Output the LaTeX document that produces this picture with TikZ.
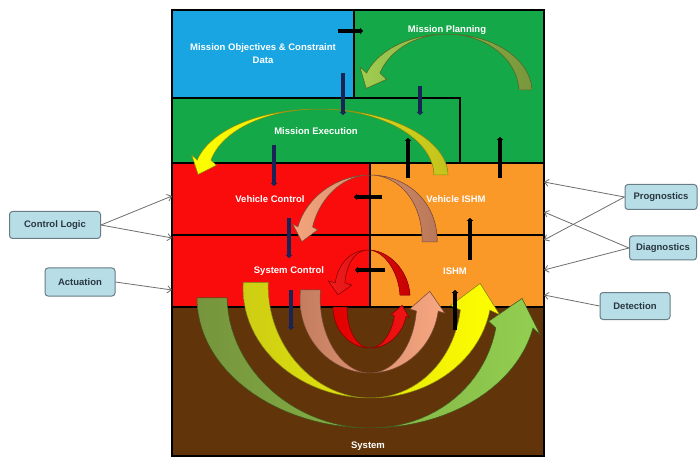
\documentclass[tikz,border=0pt]{standalone}
\usepackage{fontspec}
\setmainfont{Liberation Sans}
\usetikzlibrary{arrows.meta}

\definecolor{objblue}{RGB}{25,165,225}
\definecolor{plangreen}{RGB}{20,168,72}
\definecolor{ctrlred}{RGB}{250,12,12}
\definecolor{ishmorange}{RGB}{250,152,40}
\definecolor{sysbrown}{RGB}{98,52,10}
\definecolor{arrownavy}{RGB}{25,35,85}
\definecolor{tagfill}{RGB}{183,221,230}
\definecolor{tagline}{RGB}{105,125,135}
\definecolor{tagtext}{RGB}{40,55,65}
\definecolor{linkgray}{RGB}{110,110,110}

\tikzset{band/.cd,
  cx/.store in=\bandcx, cy/.store in=\bandcy, ry/.store in=\bandry,
  ta/.store in=\bandta, th/.store in=\bandth,
  rt/.store in=\bandrt, rh/.store in=\bandrh,
  wt/.store in=\bandwt, wh/.store in=\bandwh,
  hw/.store in=\bandhw, hl/.store in=\bandhl}

% curved block arrow between two elliptic edges, tail at angle ta, head at angle th
\newcommand\bandarrow[2]{%
  \pgfkeys{/tikz/band/.cd,hw=0.9,hl=1,#2}%
  \pgfmathsetmacro\bandrm{\bandrh-\bandwh/2}%
  \pgfmathsetmacro\bandmx{\bandcx+\bandrm*cos(\bandth)}%
  \pgfmathsetmacro\bandmy{\bandcy+\bandry*sin(\bandth)}%
  \pgfmathsetmacro\bandax{\bandrm*sin(\bandth)/100}%
  \pgfmathsetmacro\banday{-\bandry*cos(\bandth)/100}%
  \pgfmathsetmacro\bandn{sqrt(\bandax*\bandax+\banday*\banday)}%
  \pgfmathsetmacro\bandtx{\bandax/\bandn}%
  \pgfmathsetmacro\bandty{\banday/\bandn}%
  \pgfmathsetmacro\bandh{\bandhw*\bandwh}%
  \pgfmathsetmacro\bandl{\bandhl*\bandwh}%
  \filldraw[line width=0.5pt,#1] plot[domain=\bandta:\bandth,samples=50]
      ({\bandcx+(\bandrt+(\bandrh-\bandrt)*(\x-\bandta)/(\bandth-\bandta))*cos(\x)},{\bandcy+\bandry*sin(\x)})
    -- ({\bandmx-\bandty*\bandh},{\bandmy+\bandtx*\bandh})
    -- ({\bandmx+\bandtx*\bandl},{\bandmy+\bandty*\bandl})
    -- ({\bandmx+\bandty*\bandh},{\bandmy-\bandtx*\bandh})
    -- plot[domain=\bandth:\bandta,samples=50]
      ({\bandcx+(\bandrt-\bandwt+(\bandrh-\bandwh-\bandrt+\bandwt)*(\x-\bandta)/(\bandth-\bandta))*cos(\x)},{\bandcy+\bandry*sin(\x)})
    -- cycle;}

\begin{document}
\begin{tikzpicture}[x=1pt,y=-1pt,
  zonetext/.style={text=white,font=\fontsize{9.5}{13}\selectfont\bfseries,align=center},
  tag/.style={draw=tagline,line width=1pt,fill=tagfill,rounded corners=3pt,text=tagtext,
    font=\fontsize{9.5}{11}\selectfont\bfseries,inner sep=0pt},
  navyarr/.style={draw=arrownavy,line width=3.5pt,-{Triangle[width=6.5pt,length=3pt]}},
  blackarr/.style={draw=black,line width=3.5pt,-{Triangle[width=6.5pt,length=3pt]}},
  linkarr/.style={draw=linkgray,line width=0.8pt,-{Straight Barb[length=4pt,width=7pt]}}]
\fill[white] (0,0) rectangle (699,457);
\useasboundingbox (0,0) rectangle (699,457);

% zones
\fill[plangreen] (354,10) rectangle (544,163);
\fill[objblue] (172,10) rectangle (354,98);
\fill[plangreen] (172,98) rectangle (460,163);
\fill[ctrlred] (172,163) rectangle (370,307);
\fill[ishmorange] (370,163) rectangle (544,307);
\fill[sysbrown] (172,307) rectangle (544,456);
\draw[line width=1.2pt] (354,10) -- (354,98) (172,98) -- (460,98) -- (460,163)
  (172,163) -- (544,163) (172,235) -- (544,235) (172,307) -- (544,307) (370,163) -- (370,307);
\draw[line width=1.5pt] (172,10) rectangle (544,456);

% loops through the system
\bandarrow{left color={rgb,255:red,118;green,148;blue,60},right color={rgb,255:red,146;green,208;blue,80},draw={rgb,255:red,70;green,90;blue,30}}
  {cx=370,cy=300,ry=128,ta=181,th=12.6,rt=173,rh=167,wt=30,wh=38,hw=0.7,hl=0.8}
\bandarrow{left color={rgb,255:red,205;green,205;blue,20},right color={rgb,255:red,255;green,255;blue,0},draw={rgb,255:red,140;green,140;blue,20}}
  {cx=370,cy=290,ry=108,ta=184,th=10.7,rt=127,rh=122,wt=25,wh=30,hw=0.83,hl=0.9}
\bandarrow{left color={rgb,255:red,195;green,125;blue,95},right color={rgb,255:red,248;green,168;blue,130},draw={rgb,255:red,130;green,80;blue,60}}
  {cx=370,cy=300,ry=73,ta=188,th=8.7,rt=70,rh=69,wt=20,wh=22,hw=0.8,hl=0.9}
\bandarrow{left color={rgb,255:red,225;green,0;blue,0},right color={rgb,255:red,240;green,20;blue,20},draw={rgb,255:red,150;green,0;blue,0}}
  {cx=370,cy=307,ry=41,ta=180,th=12.7,rt=37,rh=37,wt=14,wh=12,hw=0.75,hl=0.9}

% arches between the layers
\bandarrow{left color={rgb,255:red,160;green,205;blue,80},right color={rgb,255:red,120;green,150;blue,60},draw={rgb,255:red,90;green,110;blue,40}}
  {cx=447,cy=92,ry=58,ta=358,th=199,rt=85,rh=85,wt=13,wh=14,hw=1.05,hl=1.2}
\bandarrow{left color={rgb,255:red,255;green,255;blue,0},right color={rgb,255:red,195;green,195;blue,30},draw={rgb,255:red,150;green,150;blue,20}}
  {cx=319,cy=175,ry=66,ta=360,th=193,rt=129,rh=125,wt=14,wh=14,hw=0.95,hl=1.1}
\bandarrow{left color={rgb,255:red,245;green,165;blue,125},right color={rgb,255:red,185;green,120;blue,90},draw={rgb,255:red,130;green,80;blue,60}}
  {cx=370,cy=242,ry=67,ta=360,th=193,rt=67,rh=74,wt=15,wh=15,hw=0.85,hl=1}
\bandarrow{left color={rgb,255:red,240;green,30;blue,30},right color={rgb,255:red,200;green,0;blue,0},draw={rgb,255:red,150;green,0;blue,0}}
  {cx=368,cy=295,ry=45,ta=360,th=195.5,rt=42,rh=34,wt=10,wh=10,hw=1.2,hl=1.2}

% small flow arrows
\foreach \x/\ya/\yb in {343/73/115, 420/86/115, 274/145/186, 289/218/258, 291/290/330}
  \draw[navyarr] (\x,\ya) -- (\x,\yb);
\foreach \x/\ya/\yb in {408/178/138, 500/178/137, 470/260/218, 455/330/290}
  \draw[blackarr] (\x,\ya) -- (\x,\yb);
\draw[blackarr] (338,31) -- (363,31);
\draw[blackarr] (382,197) -- (354,197);
\draw[blackarr] (385,270) -- (355,270);

% zone labels
\node[zonetext] (obj) at (263,54) {Mission Objectives \& Constraint\\Data};
\node[zonetext] (plan) at (447,30) {Mission Planning};
\node[zonetext] (exec) at (316,131) {Mission Execution};
\node[zonetext] (vctl) at (270,199) {Vehicle Control};
\node[zonetext] (vishm) at (456,199) {Vehicle ISHM};
\node[zonetext] (sctl) at (289,271) {System Control};
\node[zonetext] (ishm) at (455,271) {ISHM};
\node[zonetext] (sys) at (368,446) {System};

% functions outside
\node[tag,minimum width=91,minimum height=27] (logic) at (55,225) {Control Logic};
\node[tag,minimum width=70,minimum height=28] (act) at (80,282) {Actuation};
\node[tag,minimum width=72,minimum height=25] (prog) at (661,197) {Prognostics};
\node[tag,minimum width=67,minimum height=24] (diag) at (663,248) {Diagnostics};
\node[tag,minimum width=70,minimum height=27] (det) at (635,306) {Detection};

\coordinate (cl1) at (172,196);
\coordinate (cl2) at (172,238);
\coordinate (ac1) at (172,290);
\coordinate (pr1) at (544,182);
\coordinate (pr2) at (544,240);
\coordinate (dg1) at (544,212);
\coordinate (dg2) at (544,270);
\coordinate (dt1) at (544,295);

\draw[linkarr] (logic.east) -- (cl1);
\draw[linkarr] (logic.east) -- (cl2);
\draw[linkarr] (act.east) -- (ac1);
\draw[linkarr] (prog.west) -- (pr1);
\draw[linkarr] (prog.west) -- (pr2);
\draw[linkarr] (diag.west) -- (dg1);
\draw[linkarr] (diag.west) -- (dg2);
\draw[linkarr] (det.west) -- (dt1);
\end{tikzpicture}
\end{document}
